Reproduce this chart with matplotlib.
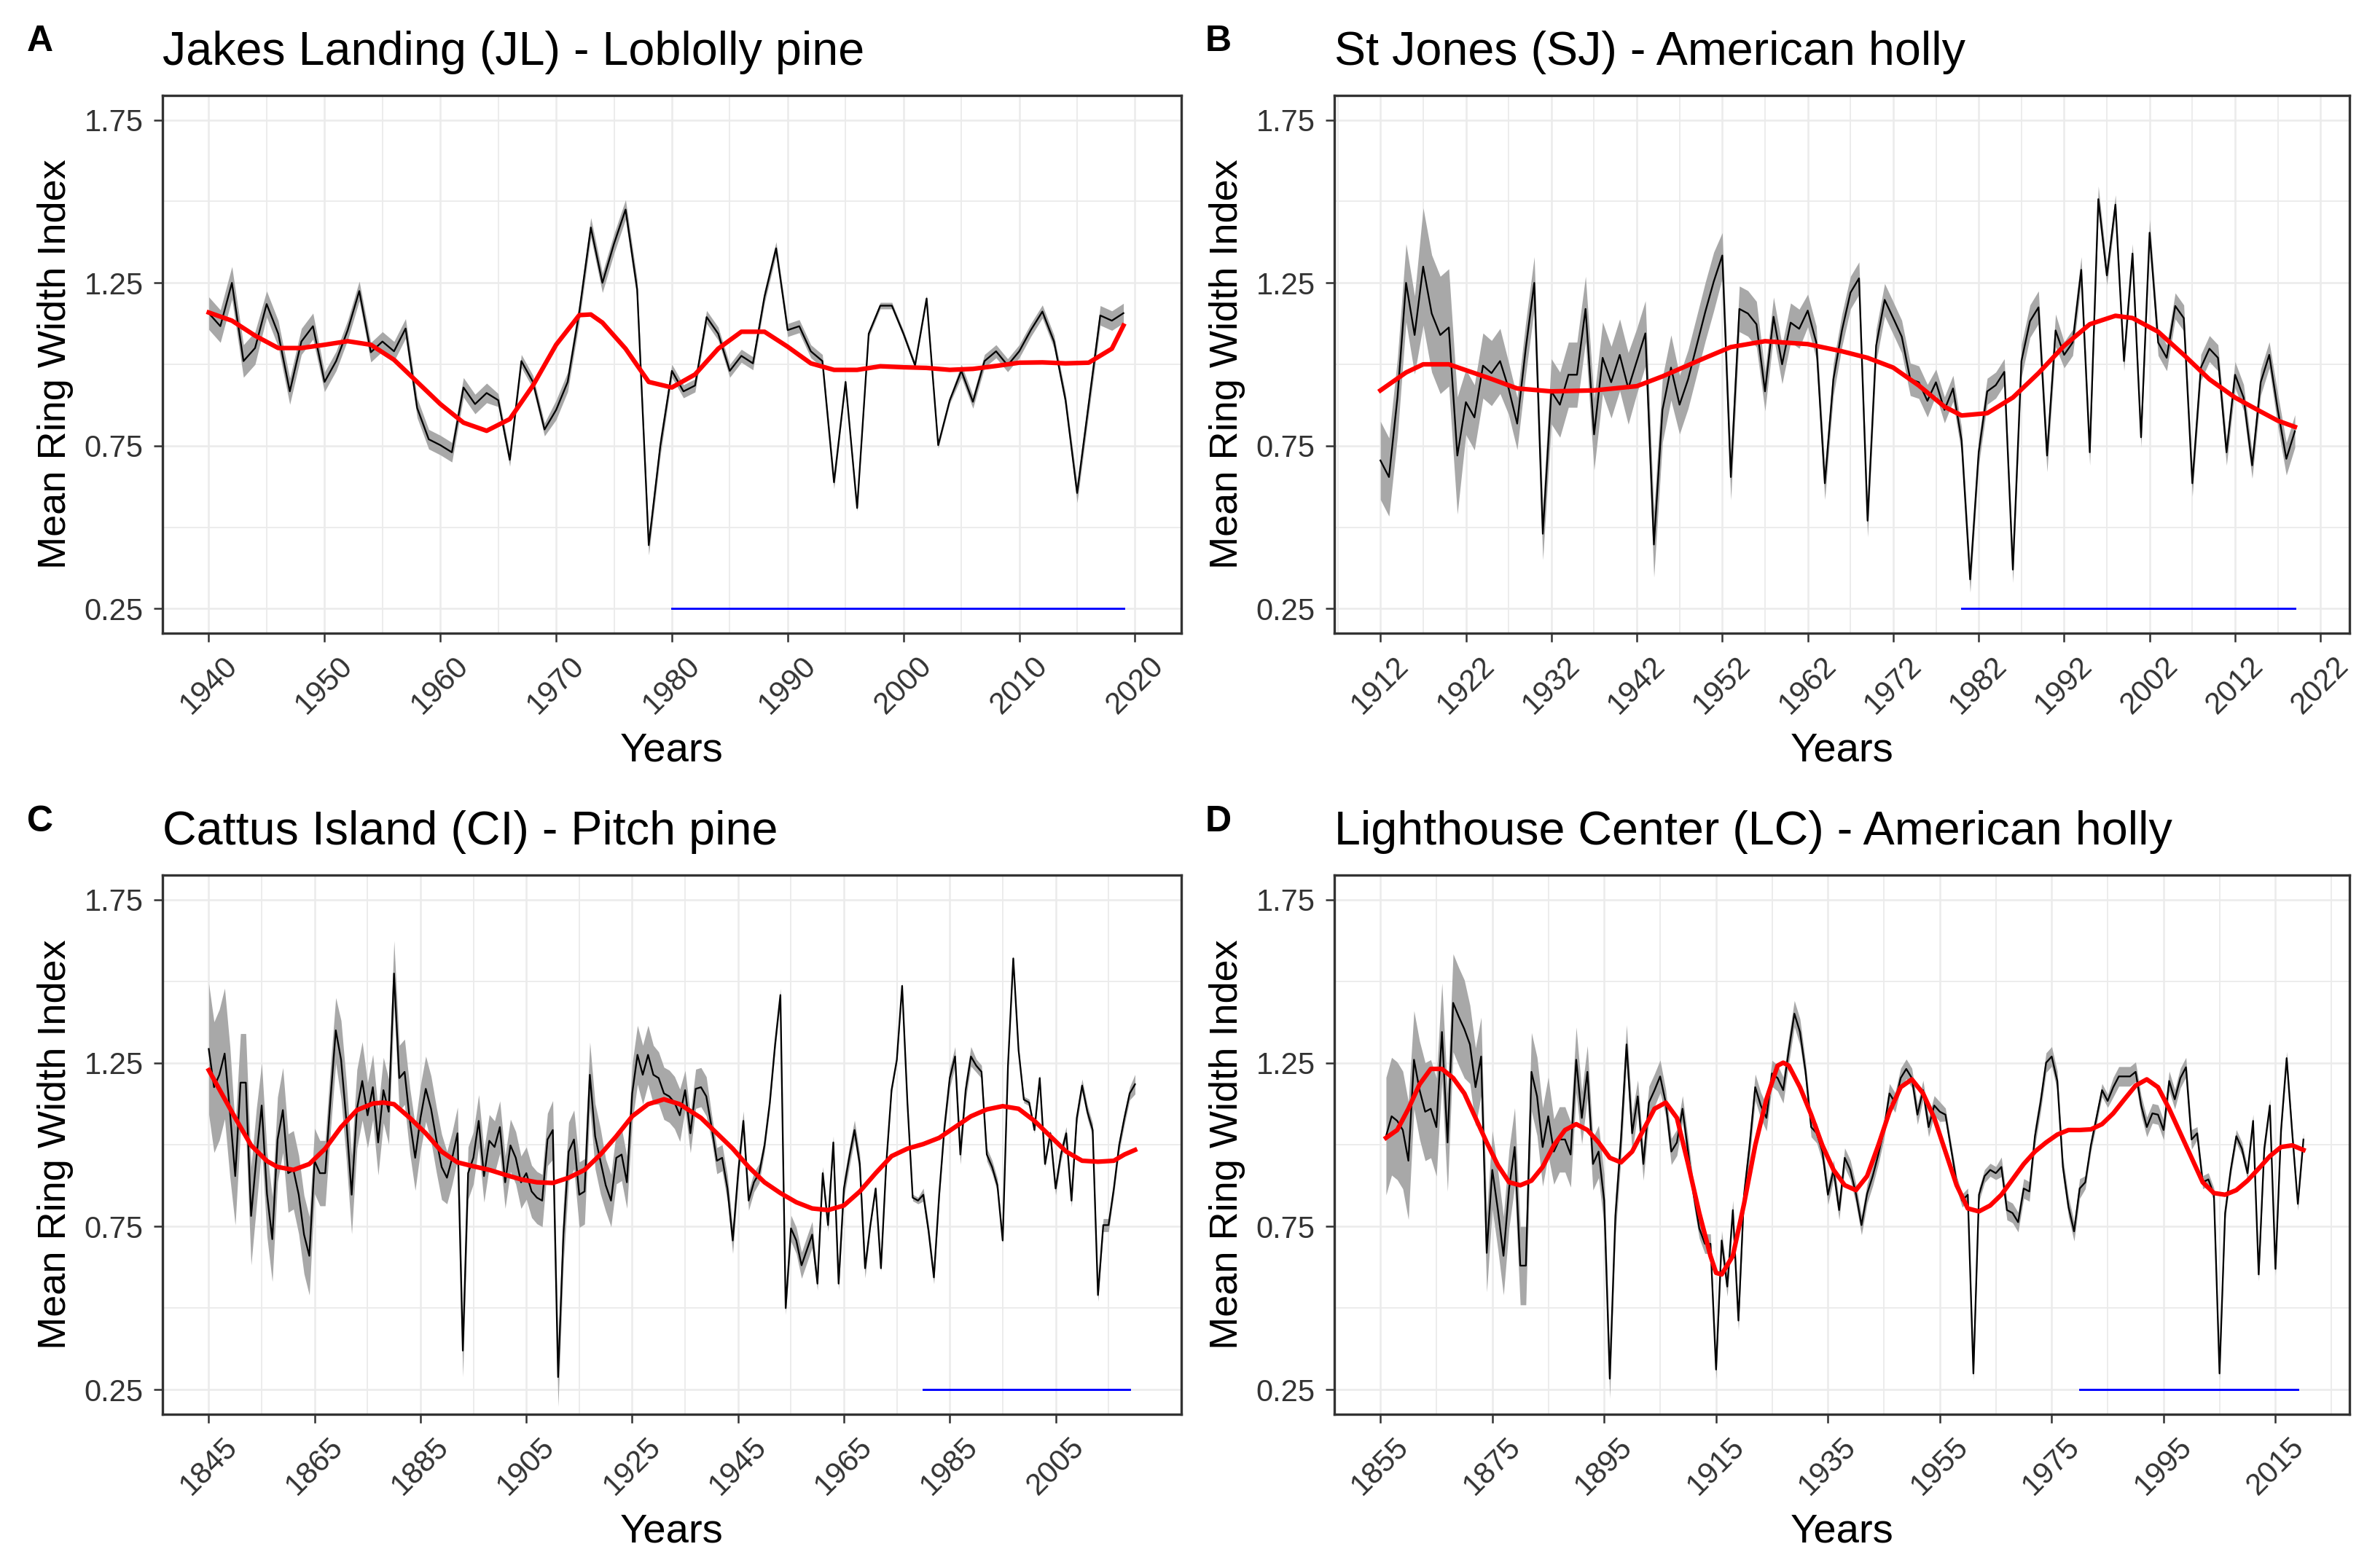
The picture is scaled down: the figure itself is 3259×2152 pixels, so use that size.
import numpy as np
import matplotlib
matplotlib.use("Agg")
import matplotlib.pyplot as plt
from matplotlib.ticker import FixedLocator

plt.rcParams['font.family'] = ['Liberation Sans', 'DejaVu Sans']

# ---- data ----
# A: Jakes Landing (JL) - Loblolly pine, 1940-2019
A_start = 1940
A_rwi = [1.157, 1.117, 1.25, 1.01, 1.05, 1.185, 1.094, 0.917, 1.07, 1.117,
         0.946, 1.01, 1.105, 1.225, 1.037, 1.07, 1.04, 1.11, 0.866, 0.77,
         0.752, 0.73, 0.929, 0.878, 0.912, 0.89, 0.707, 1.01, 0.946, 0.80,
         0.86, 0.946, 1.16, 1.42, 1.25, 1.37, 1.475, 1.23, 0.445, 0.75,
         0.98, 0.917, 0.935, 1.145, 1.094, 0.98, 1.026, 1.003, 1.208, 1.356,
         1.105, 1.117, 1.04, 1.01, 0.638, 0.946, 0.559, 1.094, 1.18, 1.18,
         1.094, 0.997, 1.202, 0.752, 0.89, 0.98, 0.885, 1.01, 1.04, 0.997,
         1.04, 1.105, 1.162, 1.07, 0.89, 0.605, 0.878, 1.15, 1.134, 1.157]
A_band = [0.05, 0.04, 0.03, 0.03, 0.03, 0.02, 0.03, 0.03,
          0.02, 0.02, 0.02, 0.01, 0.01, 0.02, 0.02, 0.03]
A_spl_yr = [1940, 1942, 1944, 1946, 1948, 1950, 1952, 1954, 1956, 1958, 1960,
            1962, 1964, 1966, 1968, 1970, 1972, 1973, 1974, 1976, 1978, 1980,
            1982, 1984, 1986, 1988, 1990, 1992, 1994, 1996, 1998, 2000, 2002,
            2004, 2006, 2008, 2010, 2012, 2014, 2016, 2018, 2019]
A_spl = [1.159, 1.134, 1.088, 1.05, 1.05, 1.06, 1.071, 1.06, 1.014, 0.946, 0.878,
         0.821, 0.796, 0.832, 0.935, 1.06, 1.151, 1.153, 1.128, 1.048, 0.946, 0.929,
         0.969, 1.048, 1.1, 1.1, 1.054, 1.003, 0.983, 0.983, 0.994, 0.991, 0.989,
         0.983, 0.986, 0.995, 1.005, 1.006, 1.003, 1.005, 1.048, 1.119]

# B: St Jones (SJ) - American holly, 1912-2019
B_start = 1912
B_rwi = [0.705, 0.654, 0.90, 1.25, 1.09, 1.30, 1.156, 1.09, 1.113, 0.72,
         0.884, 0.837, 0.996, 0.973, 1.01, 0.926, 0.818, 1.048, 1.25, 0.48,
         0.917, 0.876, 0.968, 0.968, 1.17, 0.785, 1.02, 0.945, 1.029, 0.926,
         1.01, 1.095, 0.447, 0.86, 0.99, 0.876, 0.954, 1.057, 1.16, 1.254,
         1.334, 0.654, 1.17, 1.156, 1.123, 0.917, 1.146, 1.0, 1.128, 1.109,
         1.165, 1.067, 0.635, 0.954, 1.104, 1.22, 1.264, 0.52, 1.057, 1.198,
         1.142, 1.085, 0.954, 0.945, 0.888, 0.945, 0.86, 0.926, 0.766, 0.34,
         0.73, 0.917, 0.936, 0.977, 0.37, 1.01, 1.132, 1.175, 0.72, 1.104,
         1.029, 1.067, 1.29, 0.73, 1.507, 1.273, 1.49, 1.01, 1.34, 0.776,
         1.404, 1.067, 1.02, 1.179, 1.142, 0.635, 0.99, 1.048, 1.02, 0.73,
         0.968, 0.898, 0.69, 0.945, 1.029, 0.86, 0.71, 0.795]
B_band = [0.12, 0.18, 0.10, 0.08, 0.10, 0.11, 0.10, 0.09, 0.07, 0.06, 0.05,
          0.05, 0.05, 0.04, 0.04, 0.05, 0.04, 0.03, 0.04, 0.04, 0.04, 0.05]
B_spl_yr = [1912, 1915, 1917, 1920, 1925, 1928, 1932, 1937, 1942, 1945, 1950,
            1953, 1957, 1962, 1966, 1969, 1972, 1975, 1978, 1980, 1983, 1986,
            1989, 1992, 1995, 1998, 2000, 2003, 2006, 2009, 2012, 2015, 2017, 2019]
B_spl = [0.92, 0.975, 1.0, 1.0, 0.955, 0.926, 0.917, 0.92, 0.933, 0.963, 1.02,
         1.053, 1.071, 1.062, 1.04, 1.02, 0.99, 0.935, 0.87, 0.843, 0.85, 0.898,
         0.973, 1.057, 1.123, 1.149, 1.142, 1.1, 1.029, 0.954, 0.898, 0.855, 0.827, 0.808]

# C: Cattus Island (CI) - Pitch pine, 1845-2020
C_start = 1845
C_rwi = [1.293, 1.176, 1.214, 1.279, 1.101, 0.904, 1.19, 1.19, 0.782, 0.96,
         1.12, 0.85, 0.711, 1.016, 1.106, 0.913, 0.923, 0.847, 0.725, 0.66,
         0.95, 0.913, 0.913, 1.14, 1.35, 1.26, 1.073, 0.847, 1.11, 1.195,
         1.09, 1.176, 1.007, 1.167, 1.101, 1.524, 1.204, 1.223, 1.073, 0.96,
         1.082, 1.171, 1.11, 1.016, 0.932, 0.899, 0.96, 1.035, 0.37, 0.913,
         0.96, 1.073, 0.904, 1.012, 0.993, 1.054, 0.885, 0.998, 0.96, 0.885,
         0.913, 0.857, 0.838, 0.829, 1.016, 1.045, 0.289, 0.725, 0.979, 1.016,
         0.847, 0.857, 1.214, 1.026, 0.95, 0.876, 0.829, 0.96, 0.97, 0.885,
         1.157, 1.275, 1.214, 1.275, 1.214, 1.204, 1.157, 1.148, 1.129, 1.09,
         1.167, 1.035, 1.171, 1.176, 1.148, 1.054, 0.951, 0.96, 0.866, 0.707,
         0.91, 1.073, 0.829, 0.885, 0.913, 0.998, 1.129, 1.307, 1.458, 0.50,
         0.744, 0.707, 0.631, 0.678, 0.725, 0.575, 0.913, 0.754, 1.007, 0.575,
         0.866, 0.96, 1.045, 0.941, 0.622, 0.754, 0.866, 0.622, 0.941, 1.167,
         1.26, 1.486, 1.129, 0.838, 0.829, 0.847, 0.735, 0.594, 0.847, 1.054,
         1.204, 1.27, 0.97, 1.167, 1.27, 1.242, 1.223, 0.97, 0.932, 0.876,
         0.707, 1.242, 1.57, 1.289, 1.138, 1.129, 1.045, 1.204, 0.941, 1.035,
         0.866, 0.97, 1.035, 0.829, 1.082, 1.181, 1.101, 1.045, 0.54, 0.754,
         0.754, 0.866, 0.998, 1.082, 1.157, 1.185]
C_band = [0.20, 0.15, 0.13, 0.12, 0.10, 0.12, 0.10, 0.10, 0.10, 0.08, 0.08,
          0.08, 0.08, 0.09, 0.10, 0.08, 0.09, 0.08, 0.06, 0.04, 0.03, 0.02,
          0.04, 0.02, 0.03, 0.01, 0.01, 0.02, 0.03, 0.02, 0.01, 0.01, 0.02,
          0.02, 0.02, 0.03]
C_spl_yr = [1845, 1850, 1853, 1856, 1858, 1861, 1864, 1867, 1870, 1873, 1876,
            1878, 1880, 1883, 1886, 1889, 1892, 1895, 1898, 1901, 1904, 1907,
            1910, 1913, 1916, 1919, 1922, 1925, 1928, 1931, 1934, 1938, 1941,
            1944, 1947, 1950, 1953, 1956, 1959, 1962, 1965, 1968, 1971, 1974,
            1977, 1980, 1983, 1986, 1989, 1992, 1995, 1998, 2001, 2004, 2007,
            2010, 2013, 2016, 2018, 2020]
C_spl = [1.228, 1.082, 0.998, 0.95, 0.932, 0.923, 0.941, 0.988, 1.054, 1.106,
         1.126, 1.129, 1.124, 1.082, 1.035, 0.979, 0.946, 0.934, 0.923, 0.908,
         0.894, 0.885, 0.883, 0.899, 0.923, 0.97, 1.026, 1.087, 1.124, 1.139,
         1.124, 1.082, 1.035, 0.988, 0.932, 0.885, 0.852, 0.824, 0.805, 0.80,
         0.814, 0.857, 0.913, 0.965, 0.988, 1.002, 1.021, 1.054, 1.087, 1.108,
         1.118, 1.11, 1.073, 1.026, 0.979, 0.951, 0.948, 0.951, 0.97, 0.984]

# D: Lighthouse Center (LC) - American holly, 1856-2020
D_start = 1856
D_rwi = [1.026, 1.087, 1.073, 1.045, 0.951, 1.26, 1.167, 1.101, 1.11, 1.054,
         1.345, 1.007, 1.434, 1.392, 1.354, 1.307, 1.176, 1.27, 0.669, 0.923,
         0.80, 0.66, 0.866, 0.993, 0.63, 0.63, 1.223, 1.148, 0.993, 1.087,
         0.979, 1.016, 1.016, 0.97, 1.26, 1.082, 1.223, 0.941, 0.979, 0.829,
         0.284, 0.782, 1.016, 1.307, 1.035, 1.148, 0.941, 1.129, 1.167, 1.209,
         1.129, 0.979, 1.007, 1.11, 0.979, 0.847, 0.744, 0.697, 0.697, 0.312,
         0.707, 0.566, 0.80, 0.462, 0.847, 0.998, 1.176, 1.12, 1.082, 1.218,
         1.204, 1.167, 1.289, 1.401, 1.345, 1.223, 1.054, 1.035, 0.979, 0.847,
         0.923, 0.80, 0.96, 0.923, 0.85, 0.754, 0.85, 0.904, 0.97, 1.045,
         1.157, 1.129, 1.204, 1.232, 1.204, 1.092, 1.167, 1.054, 1.12, 1.101,
         1.092, 0.988, 0.885, 0.829, 0.847, 0.30, 0.847, 0.904, 0.923, 0.913,
         0.932, 0.80, 0.791, 0.763, 0.866, 0.857, 1.026, 1.129, 1.251, 1.27,
         1.195, 0.932, 0.81, 0.735, 0.866, 0.885, 0.998, 1.082, 1.167, 1.134,
         1.176, 1.209, 1.209, 1.209, 1.223, 1.12, 1.054, 1.096, 1.092, 1.045,
         1.195, 1.139, 1.204, 1.237, 1.016, 1.035, 0.885, 0.894, 0.847, 0.30,
         0.791, 0.923, 1.026, 0.988, 0.913, 1.073, 0.603, 0.988, 1.12, 0.62,
         1.045, 1.265, 1.035, 0.819, 1.016]
D_band = [0.18, 0.15, 0.15, 0.12, 0.12, 0.12, 0.10, 0.08, 0.06, 0.05, 0.04,
          0.03, 0.03, 0.04, 0.04, 0.03, 0.03, 0.03, 0.03, 0.03, 0.02, 0.02,
          0.03, 0.03, 0.03, 0.02, 0.03, 0.03, 0.03, 0.02, 0.02, 0.02, 0.02]
D_spl_yr = [1856, 1858, 1860, 1862, 1864, 1866, 1868, 1870, 1872, 1874, 1876,
            1878, 1880, 1882, 1884, 1886, 1888, 1890, 1892, 1894, 1896, 1898,
            1900, 1902, 1904, 1906, 1908, 1910, 1912, 1914, 1915, 1916, 1918,
            1920, 1922, 1924, 1926, 1927, 1928, 1930, 1932, 1934, 1936, 1938,
            1940, 1942, 1944, 1946, 1948, 1950, 1952, 1954, 1956, 1958, 1960,
            1962, 1964, 1966, 1968, 1970, 1972, 1974, 1976, 1978, 1980, 1982,
            1984, 1986, 1988, 1990, 1992, 1994, 1996, 1998, 2000, 2002, 2004,
            2006, 2008, 2010, 2012, 2014, 2016, 2018, 2020]
D_spl = [1.021, 1.045, 1.11, 1.185, 1.232, 1.232, 1.204, 1.157, 1.082, 1.007,
         0.937, 0.885, 0.876, 0.89, 0.932, 0.998, 1.045, 1.063, 1.045, 1.007,
         0.96, 0.946, 0.979, 1.045, 1.11, 1.129, 1.082, 0.941, 0.791, 0.66,
         0.608, 0.603, 0.66, 0.819, 0.998, 1.139, 1.242, 1.251, 1.242, 1.176,
         1.092, 0.998, 0.923, 0.876, 0.861, 0.904, 0.998, 1.101, 1.176, 1.2,
         1.157, 1.082, 0.979, 0.876, 0.805, 0.796, 0.814, 0.847, 0.894, 0.941,
         0.979, 1.007, 1.031, 1.045, 1.045, 1.047, 1.063, 1.096, 1.139, 1.181,
         1.2, 1.176, 1.11, 1.035, 0.96, 0.885, 0.852, 0.847, 0.861, 0.89,
         0.927, 0.965, 0.993, 0.998, 0.984]

panels = [
    ("A", "Jakes Landing (JL) - Loblolly pine", A_start, A_rwi, A_band, A_spl_yr, A_spl,
     (1940, 2020), list(range(1940, 2021, 10))),
    ("B", "St Jones (SJ) - American holly", B_start, B_rwi, B_band, B_spl_yr, B_spl,
     (1912, 2020), list(range(1912, 2023, 10))),
    ("C", "Cattus Island (CI) - Pitch pine", C_start, C_rwi, C_band, C_spl_yr, C_spl,
     (1845, 2020), list(range(1845, 2006, 20))),
    ("D", "Lighthouse Center (LC) - American holly", D_start, D_rwi, D_band, D_spl_yr, D_spl,
     (1855, 2020), list(range(1855, 2016, 20))),
]
common_period = (1980, 2019)
y_ticks = [0.25, 0.75, 1.25, 1.75]

fig = plt.figure(figsize=(3259 / 300, 2152 / 300), dpi=300)
boxes = [(0.0684, 0.5962, 0.4290, 0.3429), (0.5618, 0.5962, 0.4275, 0.3429),
         (0.0684, 0.0980, 0.4290, 0.3439), (0.5618, 0.0980, 0.4275, 0.3439)]
letter_pos = [(0.0114, 0.9735), (0.5075, 0.9735), (0.0114, 0.4758), (0.5075, 0.4758)]

for (letter, title, start, rwi, band, syr, sval, lim, xt), box, lp in zip(panels, boxes, letter_pos):
    ax = fig.add_axes(box)
    rwi = np.array(rwi)
    years = start + np.arange(len(rwi))
    half = np.repeat(band, 5)[:len(rwi)]

    ax.fill_between(years, rwi - half, rwi + half, color='#A8A8A8', lw=0, zorder=2)
    ax.plot(years, rwi, color='black', lw=0.55, zorder=3)
    ax.plot(syr, sval, color='#FF0000', lw=1.5, zorder=4)
    ax.plot(common_period, [0.25, 0.25], color='#0000FF', lw=0.7, zorder=4)

    span = lim[1] - lim[0]
    ax.set_xlim(lim[0] - 0.05 * span, lim[1] + 0.05 * span)
    ax.set_ylim(0.175, 1.825)
    ax.set_xticks(xt)
    step = xt[1] - xt[0]
    ax.xaxis.set_minor_locator(FixedLocator([t + step / 2 for t in [xt[0] - step] + xt]))
    ax.set_yticks(y_ticks)
    ax.set_yticklabels(["%.2f" % v for v in y_ticks])
    ax.yaxis.set_minor_locator(FixedLocator([0.5, 1.0, 1.5]))
    ax.set_xticklabels([str(t) for t in xt], rotation=45, ha='center', va='top')

    ax.grid(which='major', color='#EBEBEB', lw=0.6, zorder=0)
    ax.grid(which='minor', color='#EBEBEB', lw=0.45, zorder=0)
    ax.set_axisbelow(True)
    ax.tick_params(which='major', labelsize=10, labelcolor='#333333', color='#333333',
                   length=2.9, width=0.6)
    ax.tick_params(axis='y', pad=3.4)
    ax.tick_params(axis='x', pad=3)
    ax.tick_params(which='minor', length=0)
    for s in ax.spines.values():
        s.set_color('#333333')
        s.set_linewidth(0.8)

    ax.set_title(title, loc='left', fontsize=15.5, pad=10)
    ax.set_xlabel("Years", fontsize=13.5, labelpad=4)
    ax.set_ylabel("Mean Ring Width Index", fontsize=13, labelpad=3.5)
    fig.text(lp[0], lp[1], letter, fontsize=12, fontweight='bold', ha='left', va='center')

fig.savefig("out.png", dpi=300, facecolor='white')
